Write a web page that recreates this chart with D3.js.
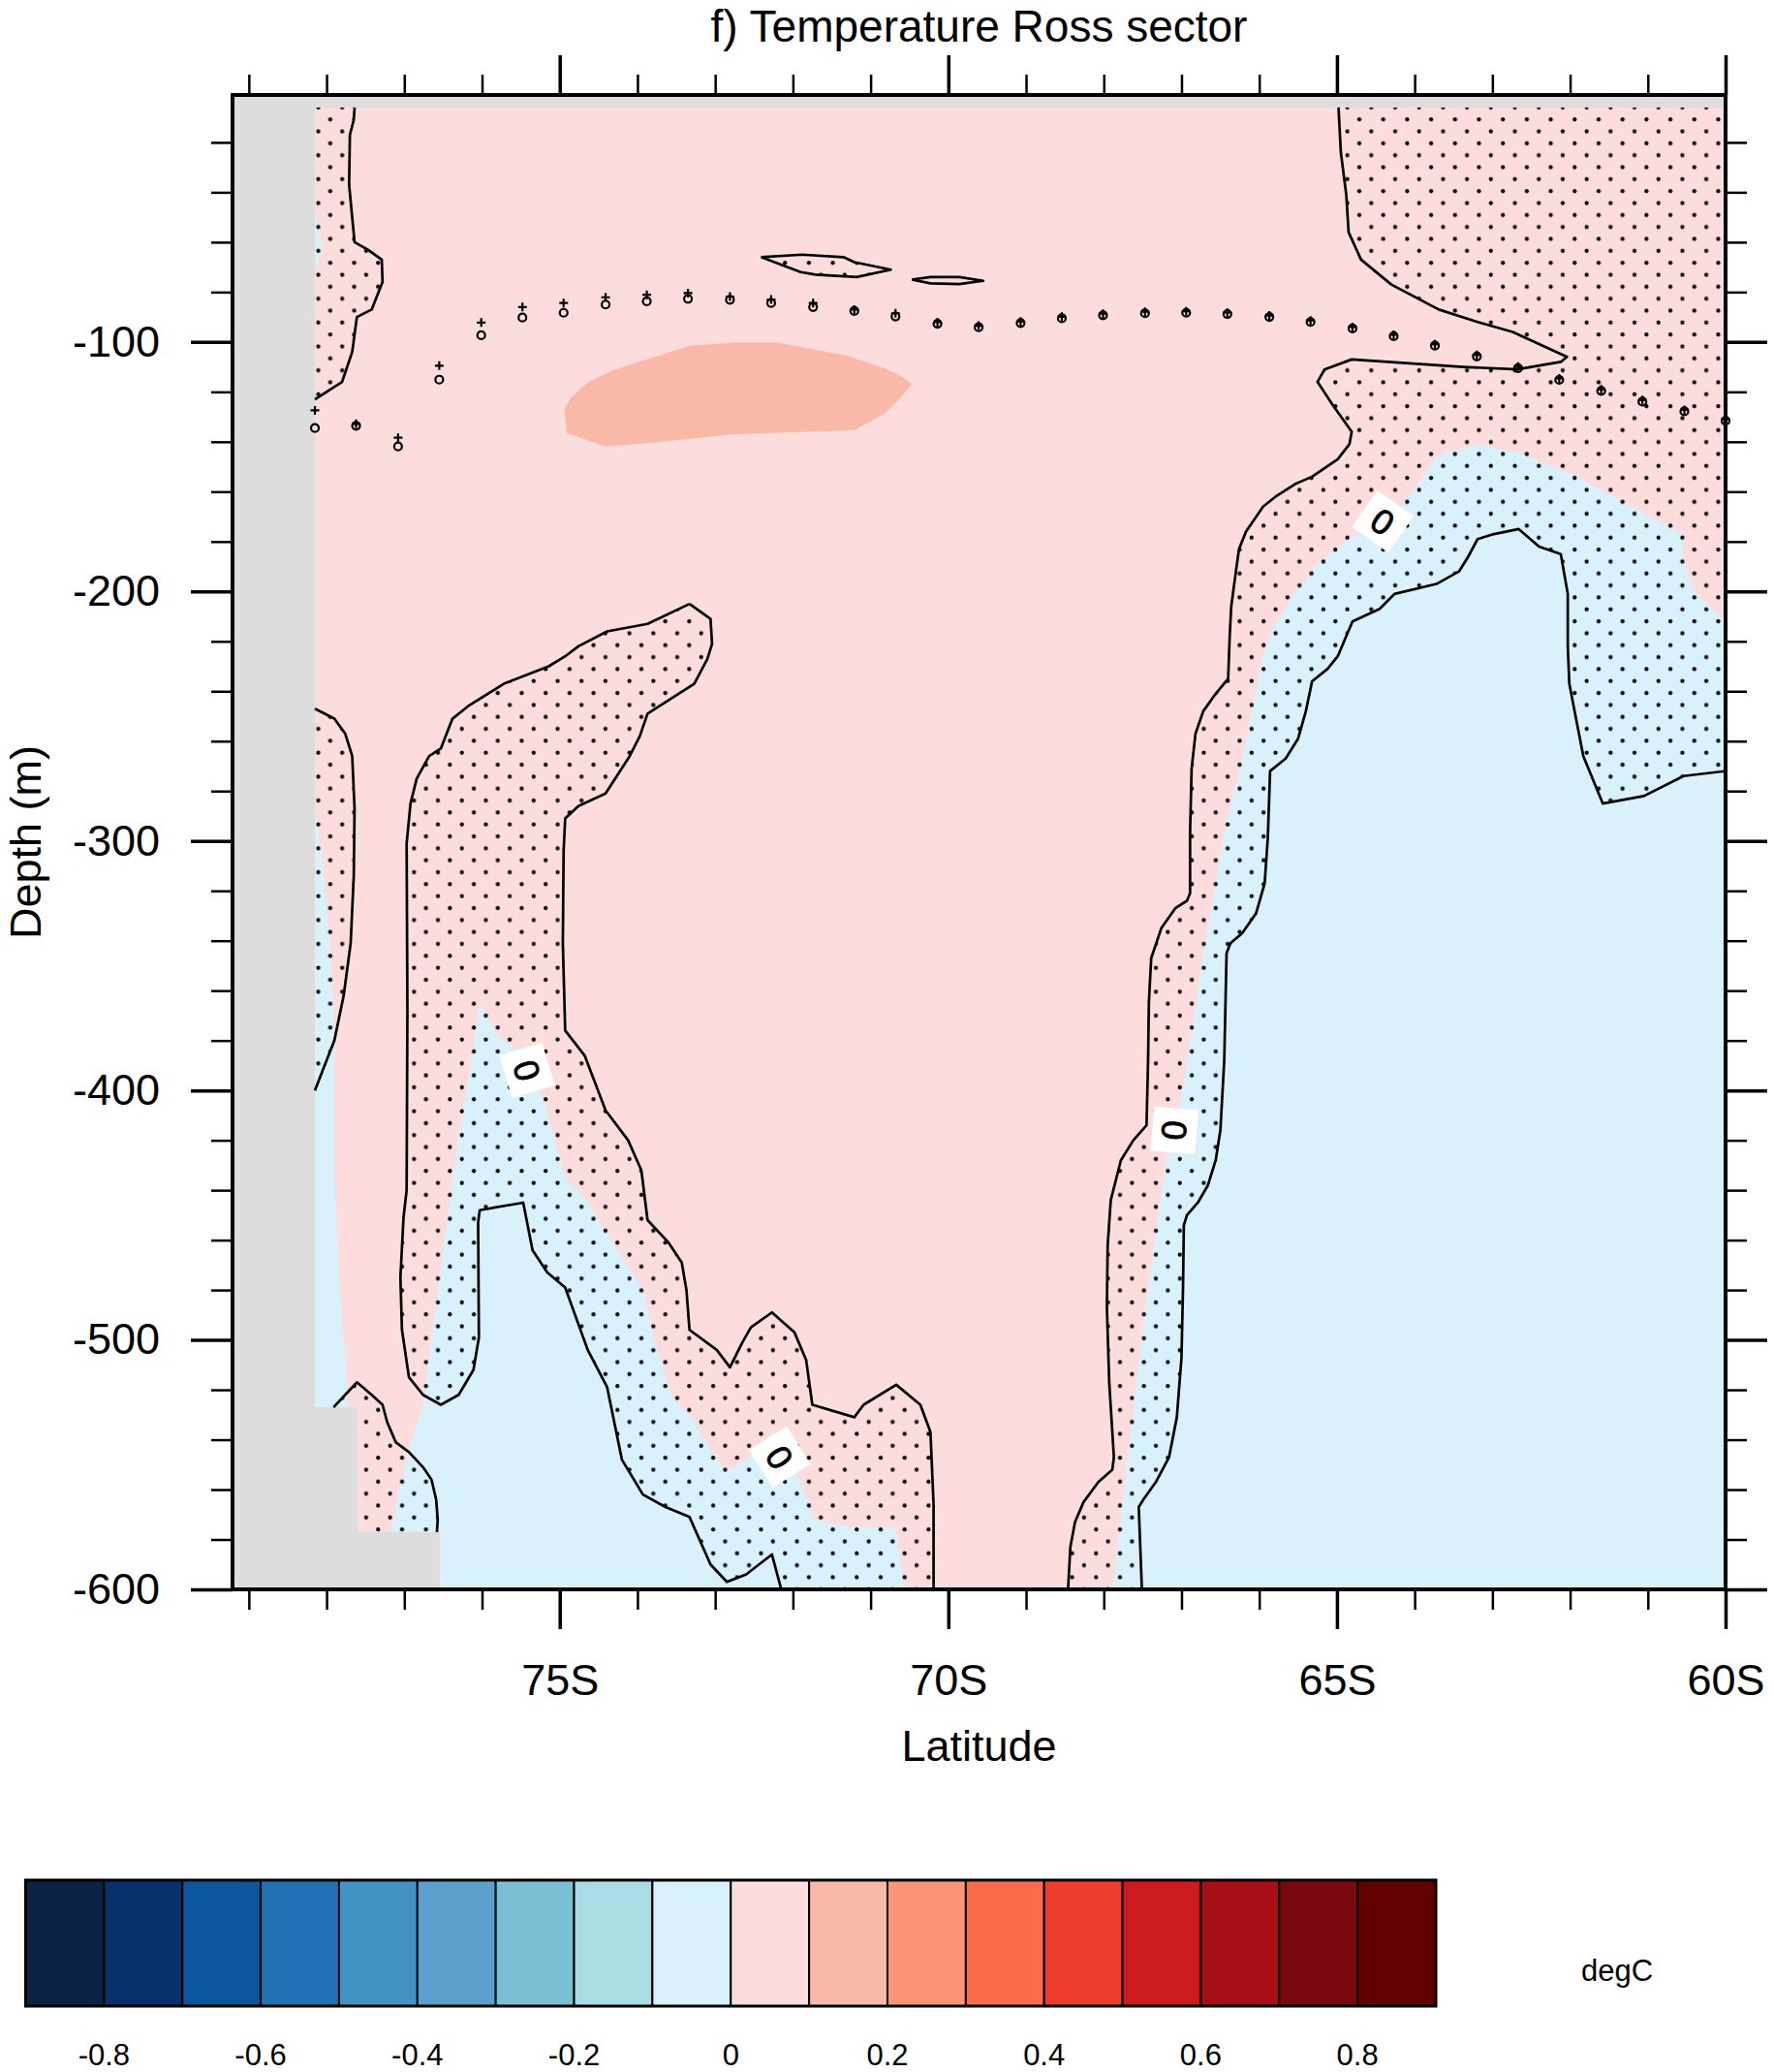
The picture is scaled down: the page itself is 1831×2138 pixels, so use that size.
<!DOCTYPE html>
<html>
<head>
<meta charset="utf-8">
<script src="https://cdn.jsdelivr.net/npm/d3@7"></script>
<style>
  body { margin: 0; background: #fff; }
  svg { display: block; font-family: "Liberation Sans", Arial, Helvetica, sans-serif; }
</style>
</head>
<body>
<svg id="chart" width="1831" height="2138"></svg>
<script>
// Axis ticks
const latMajor = [-75, -70, -65, -60];
const latMinor = [-79, -78, -77, -76, -74, -73, -72, -71, -69, -68, -67, -66, -64, -63, -62, -61];
const depthMajor = [-100, -200, -300, -400, -500, -600];
const depthMinor = [-20, -40, -60, -80, -120, -140, -160, -180, -220, -240, -260, -280,
                    -320, -340, -360, -380, -420, -440, -460, -480, -520, -540, -560, -580];

// Colour levels (degC) and colours of the label bar
const levels = [-0.9, -0.8, -0.7, -0.6, -0.5, -0.4, -0.3, -0.2, -0.1, 0, 0.1, 0.2, 0.3, 0.4, 0.5, 0.6, 0.7, 0.8, 0.9];
const levelColors = ["#0a2347", "#08306b", "#0a559b", "#2171b5", "#4292c6", "#5aa0cc", "#7bbfd5", "#aadce6", "#d8f1fb",
                     "#fddcdd", "#fab9a8", "#fc9475", "#fa6d4c", "#ef3d2c", "#cb1b1f", "#a50f15", "#7a0810", "#630000"];
const barLabels = [-0.8, -0.6, -0.4, -0.2, 0, 0.2, 0.4, 0.6, 0.8];

// Ocean cells with data [lat, depth]; everything else is land / missing
const validRegion = [[-78.15, -6], [-60, -6], [-60, -600], [-76.54, -600], [-76.54, -577],
                     [-77.61, -577], [-77.61, -527], [-78.15, -527]];

// Zero contour: regions below 0 degC
const coldRight = [[-67.89, -600], [-67.47, -487], [-67.20, -428], [-66.99, -400], [-66.70, -341], [-66.43, -293],
  [-66.25, -271], [-65.94, -224], [-65.81, -214], [-65.53, -200], [-65.22, -188], [-64.80, -178], [-64.18, -166],
  [-63.98, -158], [-63.72, -146], [-63.20, -141], [-62.63, -145], [-61.91, -154], [-61.34, -164], [-61.03, -169],
  [-60.56, -177], [-60.54, -188], [-60.41, -200], [-60, -212], [-60, -600]];
const coldLeft = [[-77.18, -577], [-76.97, -547], [-76.76, -526], [-76.55, -475], [-76.38, -435], [-76.18, -395],
  [-76.03, -365], [-75.80, -378], [-75.55, -384], [-75.22, -403], [-74.93, -435], [-74.68, -443], [-74.26, -464],
  [-73.93, -480], [-73.77, -502], [-73.56, -523], [-73.31, -531], [-72.94, -550], [-72.81, -552], [-72.60, -548],
  [-72.27, -537], [-71.90, -557], [-71.73, -572], [-71.31, -575], [-70.67, -575], [-70.57, -600], [-76.54, -600],
  [-76.54, -577]];
const coldShelf = [[-78.15, -288], [-78.05, -309], [-77.96, -341], [-77.91, -368], [-77.90, -435], [-77.84, -475],
  [-77.78, -499], [-77.74, -515], [-77.73, -527], [-78.15, -527]];
const coldSurface = [[-78.15, -48], [-78.09, -55], [-78.06, -62], [-78.09, -67], [-78.15, -71]];

// 0.1 degC contour
const warmCore = [[-74.94, -126.7], [-74.91, -136.5], [-74.41, -141.9], [-73.77, -140.3], [-72.80, -137.1],
  [-71.21, -135.4], [-70.82, -128.7], [-70.61, -122.2], [-70.47, -116.8], [-70.61, -113.7], [-70.82, -110.5],
  [-71.32, -105.4], [-72.21, -100.2], [-72.71, -100.2], [-73.33, -101.5], [-74.30, -111.2], [-74.63, -116],
  [-74.85, -122.2]];

// Significance contours (stippled areas)
const sigA = [[-77.64, -6], [-77.65, -11], [-77.70, -17], [-77.71, -37], [-77.64, -60], [-77.47, -63], [-77.29, -67],
  [-77.28, -76], [-77.42, -87], [-77.61, -90], [-77.67, -104], [-77.80, -116], [-78.00, -120], [-78.15, -123],
  [-78.15, -6]];
const sigB = [[-72.41, -66], [-71.88, -65], [-71.35, -66], [-71.21, -68], [-70.74, -71], [-71.18, -74], [-71.71, -73],
  [-71.90, -72]];
const sigC = [[-70.47, -75], [-70.23, -74], [-69.86, -74], [-69.55, -75.5], [-69.86, -76.8], [-70.23, -76.5]];
const sigD = [[-64.98, -6], [-64.95, -24], [-64.88, -41], [-64.85, -56], [-64.69, -67], [-64.30, -77], [-63.69, -87],
  [-63.19, -92], [-62.74, -96], [-62.04, -106], [-62.12, -108], [-62.68, -111], [-63.38, -110], [-64.81, -107],
  [-65.16, -111], [-65.25, -116], [-65.06, -125], [-64.81, -136], [-64.84, -141], [-64.99, -147], [-65.32, -154],
  [-65.54, -157], [-65.79, -162], [-65.95, -166], [-66.17, -176], [-66.26, -183], [-66.30, -192], [-66.36, -206],
  [-66.38, -218], [-66.40, -235], [-66.56, -241], [-66.72, -248], [-66.82, -257], [-66.87, -271], [-66.89, -297],
  [-66.89, -321], [-66.93, -324], [-67.08, -327], [-67.26, -335], [-67.39, -347], [-67.42, -365], [-67.43, -388],
  [-67.45, -414], [-67.62, -420], [-67.78, -428], [-67.91, -444], [-67.95, -462], [-67.96, -487], [-67.93, -517],
  [-67.87, -547], [-67.89, -552], [-68.07, -557], [-68.26, -565], [-68.37, -573], [-68.43, -583], [-68.46, -600],
  [-67.51, -600], [-67.55, -567], [-67.49, -564], [-67.33, -557], [-67.16, -547], [-67.06, -531], [-67.00, -507],
  [-66.98, -478], [-66.97, -454], [-66.93, -450], [-66.79, -445], [-66.66, -438], [-66.56, -428], [-66.50, -416],
  [-66.45, -388], [-66.43, -359], [-66.42, -345], [-66.37, -341], [-66.22, -337], [-66.04, -329], [-65.93, -317],
  [-65.89, -299], [-65.86, -272], [-65.66, -267], [-65.50, -259], [-65.40, -248], [-65.32, -236], [-65.12, -231],
  [-64.99, -226], [-64.80, -212], [-64.45, -207], [-64.26, -201], [-63.72, -197], [-63.43, -192], [-63.31, -186],
  [-63.19, -179], [-62.98, -177], [-62.66, -175], [-62.40, -182], [-62.12, -185], [-62.03, -201], [-62.03, -222],
  [-62.01, -237], [-61.93, -250], [-61.83, -266], [-61.58, -285], [-61.05, -282], [-60.54, -274], [-60, -272],
  [-60, -6]];
const sigE = [[-73.33, -205], [-73.06, -211], [-73.04, -221], [-73.10, -227], [-73.27, -237], [-73.87, -249],
  [-73.97, -258], [-74.10, -266], [-74.41, -281], [-74.76, -286], [-74.93, -291], [-74.95, -304], [-74.96, -341],
  [-74.93, -376], [-74.68, -386], [-74.41, -408], [-74.12, -420], [-73.95, -432], [-73.87, -452], [-73.60, -461],
  [-73.43, -469], [-73.37, -480], [-73.33, -496], [-72.98, -504], [-72.81, -511], [-72.65, -501], [-72.54, -495],
  [-72.27, -489], [-71.98, -497], [-71.83, -508], [-71.75, -526], [-71.21, -531], [-71.09, -526], [-70.67, -518],
  [-70.36, -526], [-70.23, -537], [-70.19, -566], [-70.19, -600], [-72.15, -600], [-72.27, -586], [-72.60, -594],
  [-72.85, -597], [-73.06, -590], [-73.33, -571], [-73.64, -567], [-73.93, -562], [-74.20, -548], [-74.39, -519],
  [-74.64, -504], [-74.93, -479], [-75.16, -473], [-75.35, -464], [-75.47, -445], [-76.03, -448], [-76.05, -453],
  [-76.04, -499], [-76.11, -512], [-76.30, -522], [-76.53, -526], [-76.76, -522], [-76.94, -515], [-77.03, -496],
  [-77.05, -475], [-77.01, -451], [-76.97, -440], [-76.96, -368], [-76.97, -301], [-76.92, -285], [-76.84, -275],
  [-76.68, -266], [-76.53, -263], [-76.38, -251], [-76.18, -246], [-75.72, -237], [-75.14, -230], [-74.93, -226],
  [-74.76, -222], [-74.39, -216], [-73.87, -213]];
const sigF = [[-78.15, -247], [-77.90, -251], [-77.76, -257], [-77.67, -266], [-77.64, -287], [-77.65, -314],
  [-77.69, -341], [-77.78, -362], [-77.90, -380], [-78.05, -392], [-78.15, -400]];
const sigG = [[-77.91, -527], [-77.76, -522], [-77.61, -517], [-77.42, -522], [-77.28, -526], [-77.22, -533],
  [-77.11, -541], [-76.94, -545], [-76.76, -551], [-76.65, -556], [-76.59, -564], [-76.57, -572], [-76.58, -577],
  [-77.61, -577], [-77.61, -527]];

// Mixed layer depth markers (two datasets)
const mldLat = [-78.15, -77.62, -77.08, -76.55, -76.01, -75.48, -74.95, -74.41, -73.88, -73.35, -72.81, -72.28,
  -71.74, -71.21, -70.68, -70.14, -69.61, -69.07, -68.54, -68.01, -67.47, -66.94, -66.41, -65.87, -65.34, -64.80,
  -64.27, -63.74, -63.20, -62.67, -62.14, -61.60, -61.07, -60.53, -60.00];
const mldCircle = [-134.5, -133.6, -141.9, -115.1, -97.3, -90.2, -88.3, -85.0, -83.7, -82.7, -83.1, -84.4, -86.0,
  -87.6, -89.8, -92.7, -94.1, -92.4, -90.5, -89.3, -88.5, -88.3, -88.8, -90.0, -92.0, -94.6, -97.7, -101.5, -105.8,
  -110.5, -115.2, -119.6, -123.9, -127.8, -131.6];
const mldPlus = [-127.4, -132.8, -138.4, -109.5, -92.2, -86.0, -84.4, -82.1, -81.1, -80.4, -81.8, -83.0, -84.4,
  -87.0, -88.5, -92.1, -93.5, -91.8, -89.9, -88.7, -87.9, -87.7, -88.2, -89.4, -91.4, -94.0, -97.1, -100.9, -105.2,
  -109.9, -114.6, -119.0, -123.3, -127.2, -131.0];

// Zero contour labels: [lat, depth, angle]
const zeroLabels = [[-64.41, -172, 35], [-75.42, -392, 73], [-72.17, -547, 58], [-67.09, -416, 95]];

const svg = d3.select("#chart");
const plotL = 240, plotR = 1781, plotT = 98, plotB = 1640;

const x = d3.scaleLinear().domain([-79.21, -60]).range([plotL, plotR]);
const y = d3.scaleLinear().domain([-1, -600]).range([plotT, plotB]);
const line = d3.line().x(d => x(d[0])).y(d => y(d[1]));
const area = pts => line(pts) + "Z";

const pink = levelColors[9], blue = levelColors[8], salmon = levelColors[10];

// stipple pattern and clip
const defs = svg.append("defs");
const pat = defs.append("pattern").attr("id", "stip").attr("patternUnits", "userSpaceOnUse")
  .attr("x", 13.6).attr("y", -6.2).attr("width", 24.7).attr("height", 24.66);
pat.append("circle").attr("cx", 6.175).attr("cy", 6.165).attr("r", 2.1).attr("fill", "#000");
pat.append("circle").attr("cx", 18.525).attr("cy", 18.495).attr("r", 2.1).attr("fill", "#000");
defs.append("clipPath").attr("id", "ocean").append("path").attr("d", area(validRegion));

// land / missing
svg.append("rect").attr("x", plotL).attr("y", plotT).attr("width", plotR - plotL).attr("height", plotB - plotT)
  .attr("fill", "#dddddd");

const fills = svg.append("g").attr("clip-path", "url(#ocean)");
fills.append("path").attr("d", area(validRegion)).attr("fill", pink);
[coldRight, coldLeft, coldShelf, coldSurface].forEach(p => {
  fills.append("path").attr("d", area(p)).attr("fill", blue);
});
fills.append("path").attr("d", area(warmCore)).attr("fill", salmon);

const sigAreas = [sigA, sigB, sigC, sigD, sigE, sigF, sigG];
sigAreas.forEach(p => {
  fills.append("path").attr("d", area(p)).attr("fill", "url(#stip)");
});

// contour lines, skipping the parts that run along the land / plot edge
function onEdge(p) {
  for (let i = 0; i < validRegion.length; i++) {
    const a = validRegion[i], b = validRegion[(i + 1) % validRegion.length];
    if (a[0] === b[0]) {
      if (Math.abs(p[0] - a[0]) < 0.01 && p[1] <= Math.max(a[1], b[1]) + 0.01 && p[1] >= Math.min(a[1], b[1]) - 0.01) return true;
    } else if (a[1] === b[1]) {
      if (Math.abs(p[1] - a[1]) < 0.01 && p[0] <= Math.max(a[0], b[0]) + 0.01 && p[0] >= Math.min(a[0], b[0]) - 0.01) return true;
    }
  }
  return false;
}
function contourPath(pts) {
  let d = "", last = null;
  for (let i = 0; i < pts.length; i++) {
    const a = pts[i], b = pts[(i + 1) % pts.length];
    if (onEdge(a) && onEdge(b)) { last = null; continue; }
    if (last !== a) d += "M" + x(a[0]) + "," + y(a[1]);
    d += "L" + x(b[0]) + "," + y(b[1]);
    last = b;
  }
  return d;
}
sigAreas.forEach(p => {
  svg.append("path").attr("d", contourPath(p)).attr("fill", "none")
    .attr("stroke", "#000").attr("stroke-width", 2.7).attr("stroke-linejoin", "round");
});

// markers
const mk = svg.append("g").attr("stroke", "#000").attr("stroke-width", 2.2).attr("fill", "none");
mldLat.forEach((lat, i) => {
  const px = x(lat), py = y(mldPlus[i]);
  mk.append("path").attr("d", `M${px - 4.5},${py}H${px + 4.5}M${px},${py - 4.5}V${py + 4.5}`);
  mk.append("circle").attr("cx", x(lat)).attr("cy", y(mldCircle[i])).attr("r", 4);
});

// contour labels
zeroLabels.forEach(l => {
  const g = svg.append("g").attr("transform", `translate(${x(l[0])},${y(l[1])}) rotate(${l[2]})`);
  g.append("rect").attr("x", -23).attr("y", -23).attr("width", 46).attr("height", 46).attr("fill", "#fff");
  g.append("text").attr("text-anchor", "middle").attr("dy", "0.36em").attr("font-size", 36)
    .attr("stroke", "#000").attr("stroke-width", 0.8).text("0");
});

// frame
svg.append("rect").attr("x", plotL).attr("y", plotT).attr("width", plotR - plotL).attr("height", plotB - plotT)
  .attr("fill", "none").attr("stroke", "#000").attr("stroke-width", 4);

function styleAxis(g, w) {
  g.select(".domain").remove();
  g.selectAll("line").attr("stroke", "#000").attr("stroke-width", w);
  g.attr("font-family", null).attr("font-size", null);
  g.selectAll("text").attr("fill", "#000").attr("font-size", 45);
}
const fmtLat = d => Math.abs(d) + "S";

svg.append("g").attr("transform", `translate(${plotL},0)`)
  .call(d3.axisLeft(y).tickValues(depthMajor).tickSize(43).tickPadding(32).tickFormat(d => String(d)))
  .call(g => styleAxis(g, 3.5));
svg.append("g").attr("transform", `translate(${plotL},0)`)
  .call(d3.axisLeft(y).tickValues(depthMinor).tickSize(22).tickFormat(""))
  .call(g => styleAxis(g, 2.5));
svg.append("g").attr("transform", `translate(${plotR},0)`)
  .call(d3.axisRight(y).tickValues(depthMajor).tickSize(43).tickFormat(""))
  .call(g => styleAxis(g, 3.5));
svg.append("g").attr("transform", `translate(${plotR},0)`)
  .call(d3.axisRight(y).tickValues(depthMinor).tickSize(22).tickFormat(""))
  .call(g => styleAxis(g, 2.5));

svg.append("g").attr("transform", `translate(0,${plotB})`)
  .call(d3.axisBottom(x).tickValues(latMajor).tickSize(41).tickPadding(36).tickFormat(fmtLat))
  .call(g => styleAxis(g, 3.5));
svg.append("g").attr("transform", `translate(0,${plotB})`)
  .call(d3.axisBottom(x).tickValues(latMinor).tickSize(21).tickFormat(""))
  .call(g => styleAxis(g, 2.5));
svg.append("g").attr("transform", `translate(0,${plotT})`)
  .call(d3.axisTop(x).tickValues(latMajor).tickSize(41).tickFormat(""))
  .call(g => styleAxis(g, 3.5));
svg.append("g").attr("transform", `translate(0,${plotT})`)
  .call(d3.axisTop(x).tickValues(latMinor).tickSize(21).tickFormat(""))
  .call(g => styleAxis(g, 2.5));

// titles
svg.append("text").attr("x", (plotL + plotR) / 2).attr("y", 43).attr("text-anchor", "middle")
  .attr("font-size", 46).text("f) Temperature Ross sector");
svg.append("text").attr("x", (plotL + plotR) / 2).attr("y", 1817).attr("text-anchor", "middle")
  .attr("font-size", 45).text("Latitude");
svg.append("text").attr("transform", `translate(42,${(plotT + plotB) / 2}) rotate(-90)`)
  .attr("text-anchor", "middle").attr("font-size", 45).text("Depth (m)");

// label bar
const cb = d3.scaleLinear().domain([-0.9, 0.9]).range([26.5, 1482]);
const cbTop = 1940, cbH = 130;
const cbg = svg.append("g");
levelColors.forEach((c, i) => {
  cbg.append("rect").attr("x", cb(levels[i])).attr("y", cbTop)
    .attr("width", cb(levels[i + 1]) - cb(levels[i])).attr("height", cbH)
    .attr("fill", c).attr("stroke", "#000").attr("stroke-width", 2);
});
cbg.append("rect").attr("x", cb(-0.9)).attr("y", cbTop).attr("width", cb(0.9) - cb(-0.9)).attr("height", cbH)
  .attr("fill", "none").attr("stroke", "#000").attr("stroke-width", 3);
barLabels.forEach(v => {
  cbg.append("text").attr("x", cb(v)).attr("y", 2131).attr("text-anchor", "middle").attr("font-size", 31)
    .text(v === 0 ? "0" : v.toFixed(1));
});
svg.append("text").attr("x", 1669).attr("y", 2044).attr("text-anchor", "middle").attr("font-size", 31).text("degC");
</script>
</body>
</html>
